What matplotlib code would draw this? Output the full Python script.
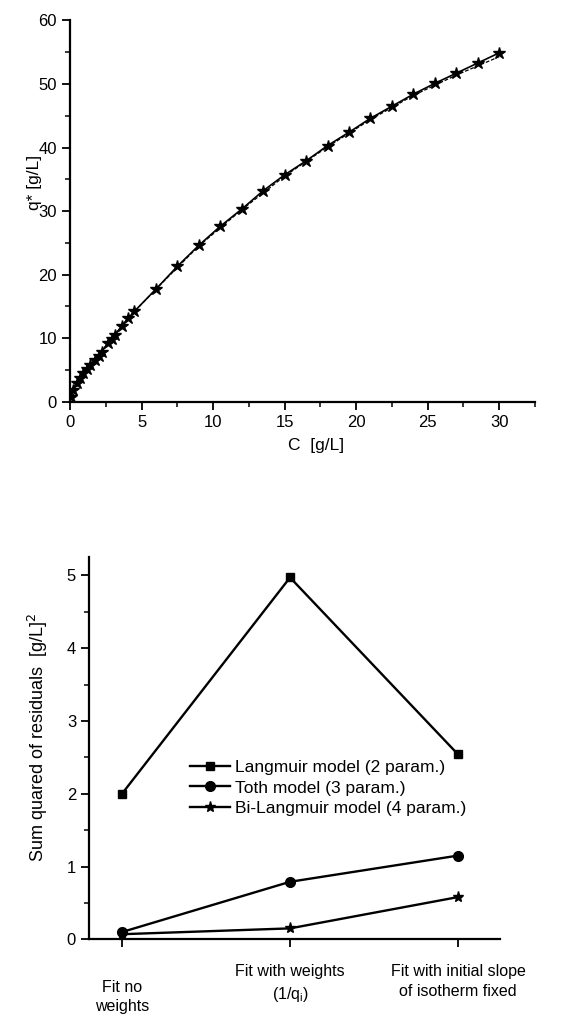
import matplotlib
matplotlib.use("Agg")
import matplotlib.pyplot as plt
from matplotlib.ticker import MultipleLocator

plt.rcParams['font.family'] = ['Liberation Sans', 'DejaVu Sans']

# isotherm data (top panel)
C_exp = [0.05, 0.23, 0.47, 0.7, 0.93, 1.16, 1.4, 1.77, 2.0, 2.21, 2.68, 2.91, 3.14,
         3.61, 4.07, 4.49, 6.0, 7.5, 9.0, 10.5, 12.0, 13.5, 15.0, 16.5, 18.0,
         19.5, 21.0, 22.5, 24.0, 25.5, 27.0, 28.5, 30.0]
q_exp = [0.8, 1.8, 2.9, 3.7, 4.5, 5.1, 5.8, 6.6, 7.2, 7.9, 9.3, 9.8, 10.5,
         11.9, 13.1, 14.2, 17.7, 21.3, 24.6, 27.6, 30.3, 33.2, 35.7, 37.9, 40.3,
         42.4, 44.6, 46.5, 48.4, 50.1, 51.7, 53.3, 54.9]
# model curve drawn dashed
C_fit = [0, 1, 2, 4, 6, 9, 12, 15, 18, 21, 24, 27, 30]
q_fit = [0, 4.5, 7.3, 13.0, 17.7, 24.5, 30.2, 35.5, 40.1, 44.4, 48.2, 51.4, 54.3]

# sum of squared residuals (bottom panel)
methods = ['Fit no\nweights', 'Fit with weights\n(1/q$_\\mathregular{i}$)',
           'Fit with initial slope\nof isotherm fixed']
langmuir = [2.0, 4.97, 2.54]
toth = [0.1, 0.79, 1.15]
bilangmuir = [0.07, 0.15, 0.58]

fig = plt.figure(figsize=(5.79, 10.17), dpi=100)

# ---- top panel
ax1 = fig.add_axes([0.1209, 0.605, 0.8031, 0.3749])
ax1.plot(C_fit, q_fit, color='black', lw=0.9, ls='--', dashes=(3, 1.5))
ax1.plot(C_exp, q_exp, color='black', lw=1.2, marker='*', ms=9, mfc='black', mec='black')
ax1.set_xlim(0, 32.5)
ax1.set_ylim(0, 60)
ax1.xaxis.set_major_locator(MultipleLocator(5))
ax1.xaxis.set_minor_locator(MultipleLocator(2.5))
ax1.yaxis.set_major_locator(MultipleLocator(10))
ax1.yaxis.set_minor_locator(MultipleLocator(5))
ax1.set_xlabel('C  [g/L]', fontsize=12.5)
ax1.set_ylabel('q* [g/L]', fontsize=12.5)
ax1.xaxis.set_label_coords(0.53, -0.095)
ax1.yaxis.set_label_coords(-0.06, 0.574)

# ---- bottom panel
ax2 = fig.add_axes([0.1542, 0.0764, 0.7094, 0.3758])
x = list(range(len(methods)))
ax2.plot(x, langmuir, color='black', lw=1.7, marker='s', ms=6,
         label='Langmuir model (2 param.)', clip_on=False)
ax2.plot(x, toth, color='black', lw=1.7, marker='o', ms=7,
         label='Toth model (3 param.)', clip_on=False)
ax2.plot(x, bilangmuir, color='black', lw=1.7, marker='*', ms=8,
         label='Bi-Langmuir model (4 param.)', clip_on=False)
ax2.set_xlim(-0.195, 2.25)
ax2.set_ylim(0, 5.25)
ax2.set_xticks(x)
ax2.set_xticklabels([])
ax2.yaxis.set_major_locator(MultipleLocator(1))
ax2.yaxis.set_minor_locator(MultipleLocator(0.5))
ax2.set_ylabel('Sum quared of residuals  [g/L]$^2$', fontsize=13)
ax2.yaxis.set_label_coords(-0.095, 0.527)
offsets = [-29, -18, -18]
for xi, lab, off in zip(x, methods, offsets):
    ax2.annotate(lab, xy=(xi, 0), xycoords=('data', 'axes fraction'),
                 xytext=(0, off), textcoords='offset points',
                 ha='center', va='top', fontsize=11.5, linespacing=1.4)
leg = ax2.legend(loc='upper left', bbox_to_anchor=(0.245, 0.47), frameon=False,
                 fontsize=12.5, handlelength=2.3, handletextpad=0.3,
                 labelspacing=0.32, borderpad=0, borderaxespad=0)

for ax in (ax1, ax2):
    for side in ('top', 'right'):
        ax.spines[side].set_visible(False)
    for side in ('left', 'bottom'):
        ax.spines[side].set_linewidth(1.6)
    ax.tick_params(which='major', direction='out', length=6, width=1.3, labelsize=12)
    ax.tick_params(which='minor', direction='out', length=3.5, width=1.1)

fig.savefig('out.png', dpi=100)
